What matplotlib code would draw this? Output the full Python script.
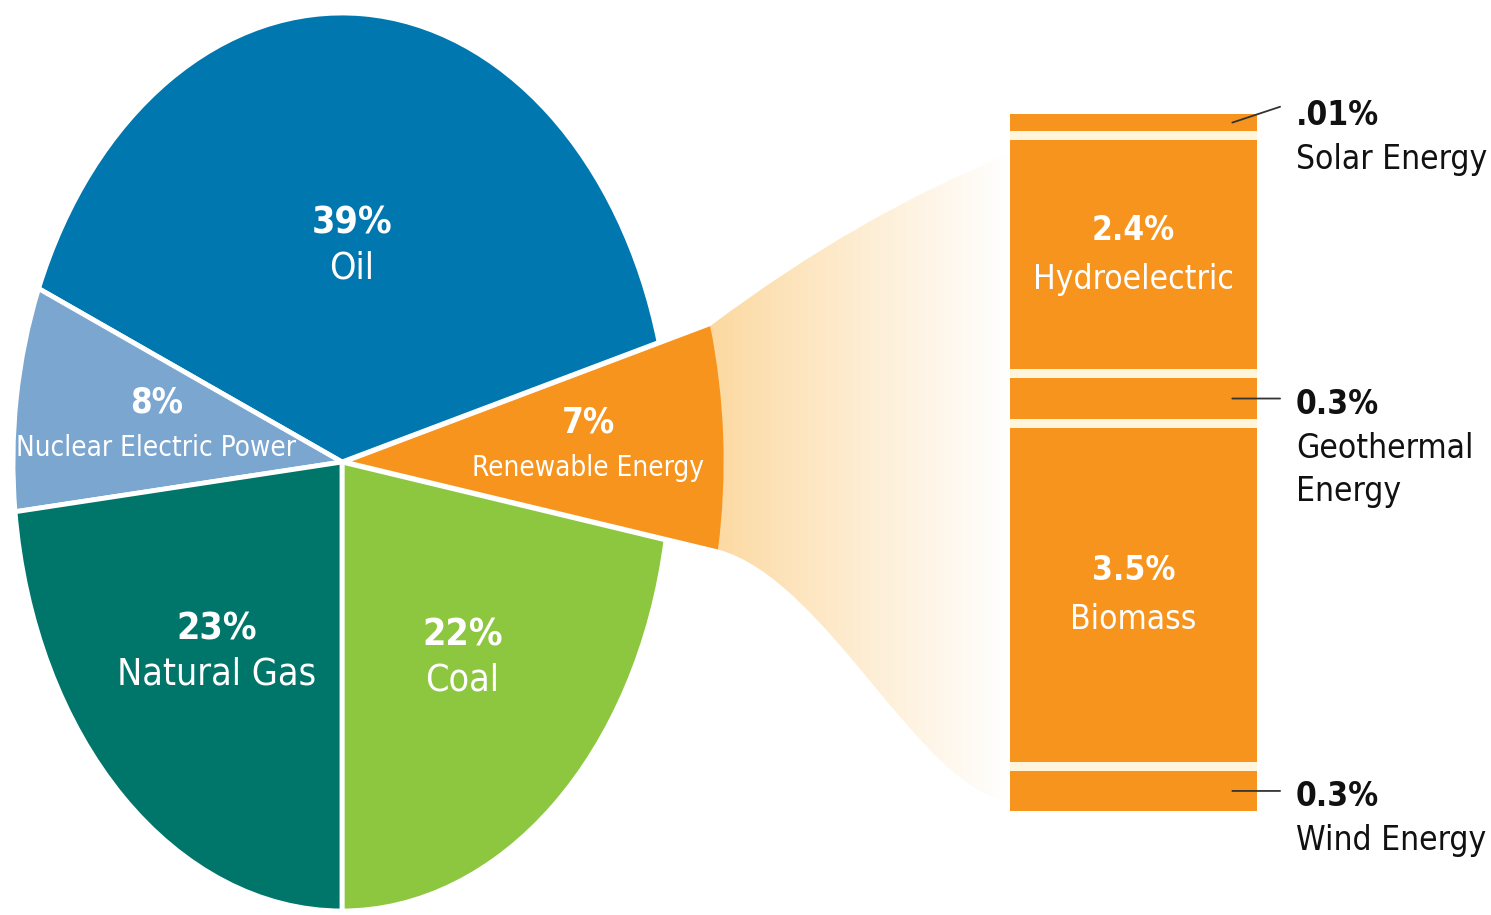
import numpy as np
import matplotlib.pyplot as plt
from matplotlib.path import Path
from matplotlib.patches import PathPatch
from matplotlib.colors import to_rgb

plt.rcParams['font.family'] = ['DejaVu Sans']
plt.rcParams['font.stretch'] = 'condensed'

W, H = 1491, 915

# pie: starting at the bottom, going counter-clockwise
sources = ["Coal", "Renewable Energy", "Oil", "Nuclear Electric Power", "Natural Gas"]
shares = [22, 7, 39, 8, 23]
pie_colors = ["#8DC63F", "#F7941E", "#0078AF", "#7AA6CF", "#00766A"]

# renewable breakdown, bottom to top
renew = ["Wind Energy", "Biomass", "Geothermal\nEnergy", "Hydroelectric", "Solar Energy"]
renew_share = [0.3, 3.5, 0.3, 2.4, 0.01]
renew_pct = ["0.3%", "3.5%", "0.3%", "2.4%", ".01%"]

ORANGE = "#F7941E"

fig = plt.figure(figsize=(W / 100, H / 100), dpi=100)

# background layer in pixel coordinates (for the gradient fan)
ax_bg = fig.add_axes([0, 0, 1, 1])
ax_bg.axis('off')

# pie, stretched to an ellipse
cx, cy, rx, ry = 342, 462, 329, 449
lim = 1.3
ax_pie = fig.add_axes([(cx - lim * rx) / W, (H - cy - lim * ry) / H,
                       2 * lim * rx / W, 2 * lim * ry / H])
explode = [0, 0.03, 0, 0, 0]
wedges, _ = ax_pie.pie(shares, colors=pie_colors, startangle=-90, counterclock=True,
                       explode=explode, wedgeprops=dict(edgecolor='white', linewidth=3.5))
ax_pie.set_aspect('auto')
ax_pie.set_xlim(-lim, lim)
ax_pie.set_ylim(-lim, lim)
ax_pie.axis('off')

rw = wedges[1]
rw.set_radius(1.13)
rw.set_linewidth(0)

label_dist = [0.57, 0.72, 0.48, 0.57, 0.57]
pct_size = [27, 25, 27, 25, 27]
name_size = [27, 20, 27, 20, 27]
for w, name, val, d, fp, fn in zip(wedges, sources, shares, label_dist, pct_size, name_size):
    mid = np.deg2rad((w.theta1 + w.theta2) / 2)
    x, y = d * np.cos(mid) + w.center[0], d * np.sin(mid) + w.center[1]
    ax_pie.annotate(f"{val}%", (x, y), xytext=(0, 23), textcoords='offset pixels',
                    ha='center', va='center', color='white', fontsize=fp, fontweight='bold')
    ax_pie.annotate(name, (x, y), xytext=(0, -22), textcoords='offset pixels',
                    ha='center', va='center', color='white', fontsize=fn)

# fan from the renewable wedge to the bar
def to_px(r, ang):
    a = np.deg2rad(ang)
    ex, ey = rw.center
    return cx + rx * (ex + r * np.cos(a)), cy - ry * (ey + r * np.sin(a))

bar_x0, bar_x1, bar_top, bar_bot = 1010, 1257, 114, 811
p_top = to_px(rw.r, rw.theta2)
p_bot = to_px(rw.r, rw.theta1)
verts = [p_top,
         (p_top[0] + 100, p_top[1] - 75), (bar_x0 - 100, bar_top + 80), (bar_x0, bar_top + 40),
         (bar_x0, bar_bot - 10),
         (bar_x0 - 90, bar_bot - 20), (p_bot[0] + 110, p_bot[1] + 30), p_bot,
         p_top]
codes = [Path.MOVETO, Path.CURVE4, Path.CURVE4, Path.CURVE4, Path.LINETO,
         Path.CURVE4, Path.CURVE4, Path.CURVE4, Path.CLOSEPOLY]
fan = PathPatch(Path(verts, codes), facecolor='none', edgecolor='none')
ax_bg.add_patch(fan)
n = 256
c0 = np.array(to_rgb("#FCD597"))
t = np.linspace(0, 1, n) ** 0.9
grad = (c0[None, :] * (1 - t[:, None]) + np.ones(3)[None, :] * t[:, None])[None, :, :]
x_left = p_top[0] - 20
im = ax_bg.imshow(grad, extent=[x_left, bar_x0, H, 0], aspect='auto', zorder=1)
im.set_clip_path(fan)
ax_bg.set_xlim(0, W)
ax_bg.set_ylim(H, 0)

# stacked bar of renewables
vals = np.array(renew_share)
disp = np.where(vals < 0.1, 0.18, np.maximum(vals, 0.42))
gap = 0.095
bottoms = np.concatenate([[0], np.cumsum(disp + gap)[:-1]])
total = bottoms[-1] + disp[-1]
ax_bar = fig.add_axes([bar_x0 / W, (H - bar_bot) / H, (bar_x1 - bar_x0) / W,
                       (bar_bot - bar_top) / H])
ax_bar.bar(0, total, bottom=0, width=1, color="#FFF5DC", zorder=1)
ax_bar.bar(0, disp, bottom=bottoms, width=1, color=ORANGE, zorder=2)
ax_bar.set_xlim(-0.5, 0.5)
ax_bar.set_ylim(0, total)
ax_bar.axis('off')

x_lab = (1290 - bar_x0) / (bar_x1 - bar_x0) - 0.5
for name, pct, b, h, v in zip(renew, renew_pct, bottoms, disp, vals):
    yc = b + h / 2
    if v >= 1:
        ax_bar.annotate(pct, (0, yc), xytext=(0, 24), textcoords='offset pixels',
                        ha='center', va='center', color='white', fontsize=24, fontweight='bold')
        ax_bar.annotate(name, (0, yc), xytext=(0, -25), textcoords='offset pixels',
                        ha='center', va='center', color='white', fontsize=24)
    else:
        rise = 7 if v < 0.1 else -6
        end = 16 if v < 0.1 else 0
        ax_bar.annotate("", (0.40, yc), xytext=(x_lab - 0.04, yc + end / 96.4),
                        textcoords='data',
                        arrowprops=dict(arrowstyle='-', color='#333333', lw=1.3,
                                        shrinkA=0, shrinkB=0),
                        annotation_clip=False)
        ax_bar.annotate(pct, (x_lab, yc), xytext=(6, rise), textcoords='offset pixels',
                        ha='left', va='center', color='#111111', fontsize=24,
                        fontweight='bold', annotation_clip=False)
        ax_bar.annotate(name, (x_lab, yc), xytext=(6, rise - 27), textcoords='offset pixels',
                        ha='left', va='top', color='#111111', fontsize=24,
                        linespacing=1.4, annotation_clip=False)

fig.savefig("out.png", dpi=100)
